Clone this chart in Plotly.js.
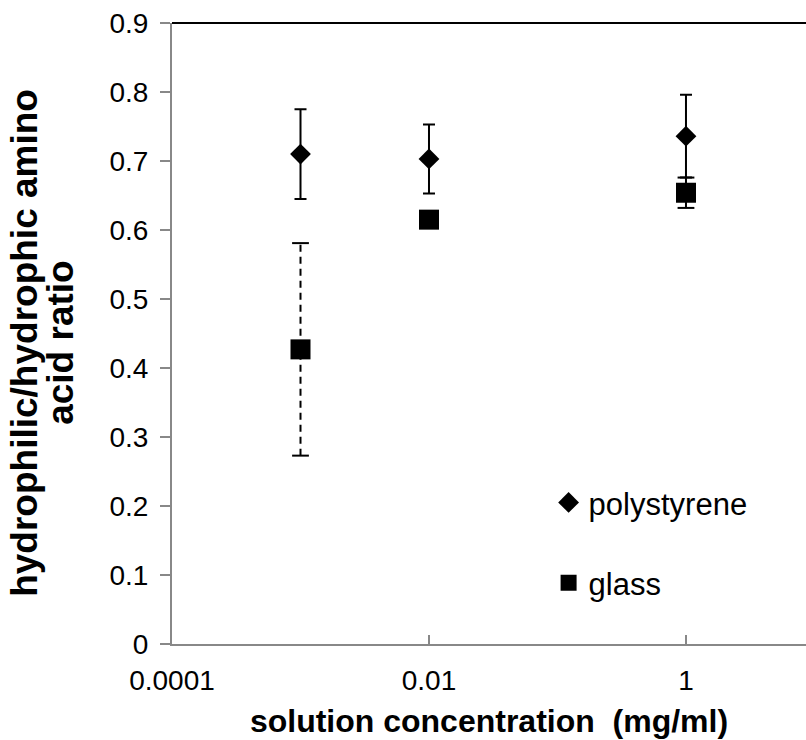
<!DOCTYPE html>
<html>
<head>
<meta charset="utf-8">
<script src="https://cdn.plot.ly/plotly-3.0.1.min.js"></script>
<style>
  html, body { margin: 0; padding: 0; background: #fff; }
  #chart { width: 806px; height: 740px; }
</style>
</head>
<body>
<div id="chart"></div>
<script>
// Solution concentrations (mg/ml)
const concentrations = [0.001, 0.01, 1];

// Hydrophilic/hydrophobic amino acid ratio, adsorbed on polystyrene
const polystyreneRatio = [0.710, 0.703, 0.736];
const polystyreneErr = [0.065, 0.050, 0.060];

// Same ratio, adsorbed on glass
const glassRatio = [0.427, 0.615, 0.654];
const glassErr = [0.154, 0.008, 0.022];

// Axis tick labels
const xTickVals = [0.0001, 0.01, 1];
const xTickText = ['0.0001', '0.01', '1'];

// Y-axis title, one entry per line
const yTitleLines = ['hydrophilic/hydrophic amino', 'acid ratio'];

const FONT = 'Liberation Sans, Arial, sans-serif';

// Dashed error bars for the glass series (segments separated by gaps)
const glassBarX = [], glassBarY = [], glassCapX = [], glassCapY = [];
concentrations.forEach((c, i) => {
  glassBarX.push(c, c, null);
  glassBarY.push(glassRatio[i] - glassErr[i], glassRatio[i] + glassErr[i], null);
  glassCapX.push(c, c);
  glassCapY.push(glassRatio[i] - glassErr[i], glassRatio[i] + glassErr[i]);
});

const traces = [
  {
    x: glassBarX, y: glassBarY, type: 'scatter', mode: 'lines',
    line: { color: '#000', width: 2, dash: '7px,5px' },
    showlegend: false, hoverinfo: 'skip', connectgaps: false
  },
  {
    x: glassCapX, y: glassCapY, type: 'scatter', mode: 'markers',
    marker: { symbol: 'line-ew', size: 12, line: { color: '#000', width: 2 } },
    showlegend: false, hoverinfo: 'skip'
  },
  {
    name: 'polystyrene', legendgroup: 'ps',
    x: concentrations, y: polystyreneRatio, type: 'scatter', mode: 'markers',
    marker: { symbol: 'diamond', size: 16, color: '#000' },
    error_y: { type: 'data', array: polystyreneErr, visible: true,
               color: '#000', thickness: 2, width: 6 }
  },
  {
    name: 'glass', legendgroup: 'gl',
    x: concentrations, y: glassRatio, type: 'scatter', mode: 'markers',
    marker: { symbol: 'square', size: 20, color: '#000' }
  }
];

// Two-line vertical axis title, placed line by line left of the tick labels
const titleFont = { family: FONT, size: 37, color: '#000', weight: 'bold' };
const yTitleX = [25, 61];
const annotations = yTitleLines.map((txt, i) => ({
  text: txt, textangle: -90, showarrow: false,
  xref: 'paper', yref: 'paper',
  x: (yTitleX[i] - 172) / 634, y: 0.485,
  xanchor: 'center', yanchor: 'middle',
  font: titleFont
}));

const layout = {
  width: 806, height: 740,
  margin: { l: 172, r: 0, t: 23, b: 96 },
  paper_bgcolor: '#fff', plot_bgcolor: '#fff',
  font: { family: FONT, color: '#000' },
  showlegend: true,
  legend: {
    x: 0.594, y: 0.163, xanchor: 'left', yanchor: 'middle',
    font: { family: FONT, size: 31, color: '#000' },
    tracegroupgap: 37, traceorder: 'grouped', bgcolor: 'rgba(0,0,0,0)'
  },
  xaxis: {
    type: 'log',
    range: [-4, 0.934],
    tickvals: xTickVals, ticktext: xTickText,
    ticks: 'inside', ticklen: 9, tickwidth: 2, tickcolor: '#888',
    showline: true, linecolor: '#888', linewidth: 2,
    showgrid: false, zeroline: false,
    tickfont: { family: FONT, size: 28, color: '#000' },
    ticklabelstandoff: 10,
    title: { text: 'solution concentration  (mg/ml)',
             font: { family: FONT, size: 32, color: '#000', weight: 'bold' },
             standoff: 15 }
  },
  yaxis: {
    range: [0, 0.9], dtick: 0.1, tick0: 0,
    ticks: 'outside', ticklen: 10, tickwidth: 2, tickcolor: '#888',
    showline: true, linecolor: '#888', linewidth: 2,
    showgrid: false, zeroline: false,
    tickfont: { family: FONT, size: 28, color: '#000' },
    ticklabelstandoff: 6
  },
  annotations: annotations,
  shapes: [
    { type: 'line', xref: 'paper', yref: 'paper', x0: 0, x1: 1, y0: 1, y1: 1,
      line: { color: '#000', width: 2 } }
  ]
};

Plotly.newPlot('chart', traces, layout, { displayModeBar: false, staticPlot: true });
</script>
</body>
</html>
